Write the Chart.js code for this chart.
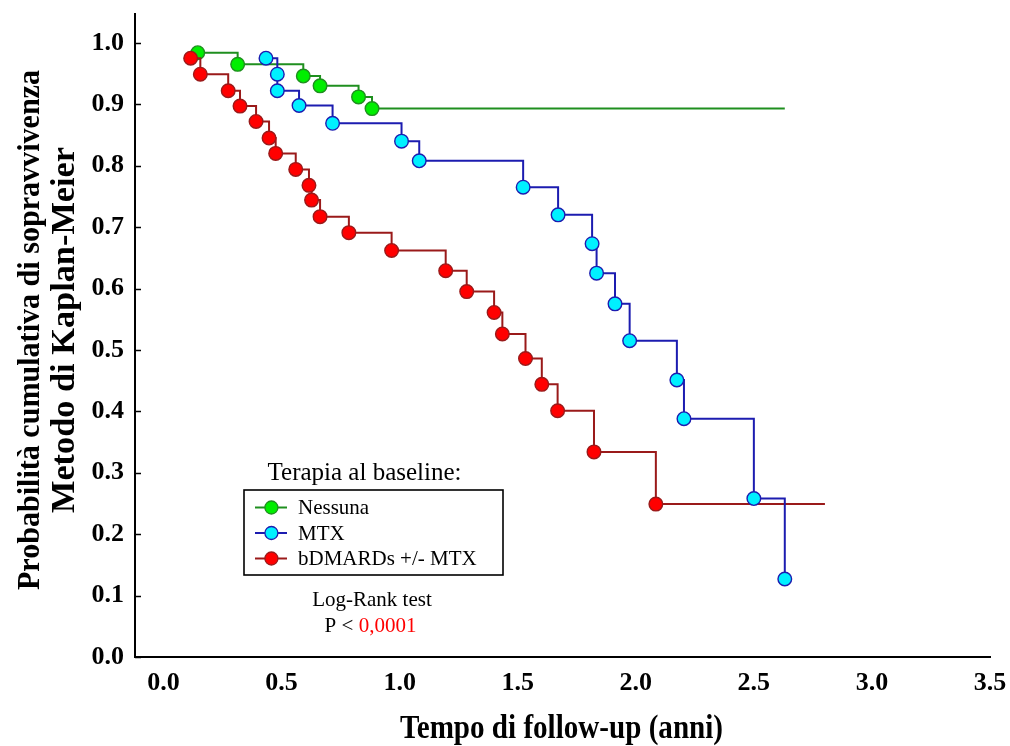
<!DOCTYPE html>
<html><head><meta charset="utf-8">
<script src="https://cdn.jsdelivr.net/npm/chart.js@4.4.1/dist/chart.umd.min.js"></script>
<style>html,body{margin:0;padding:0;background:#fff}#wrap{width:1010px;height:746px;position:relative}</style>
</head><body><div id="wrap"><canvas id="c" width="1010" height="746"></canvas></div>
<script>
// ---- data ----
const xTicks = [0, 0.5, 1.0, 1.5, 2.0, 2.5, 3.0, 3.5];
const yTicks = [0, 0.1, 0.2, 0.3, 0.4, 0.5, 0.6, 0.7, 0.8, 0.9, 1.0];
const seriesNames = ['Nessuna', 'MTX', 'bDMARDs +/- MTX'];
const legendTitle = 'Terapia al baseline:';
const xTitle = 'Tempo di follow-up (anni)';
const yTitle = ['Probabilità cumulativa di sopravvivenza', 'Metodo di Kaplan-Meier'];
const testLabel = 'Log-Rank test';
const pPrefix = 'P < ';
const pValue = '0,0001';

const nessunaT = [0.145, 0.314, 0.592, 0.663, 0.826, 0.883, 2.631];
const nessunaS = [0.984, 0.965, 0.946, 0.930, 0.912, 0.893, 0.893];
const nessunaCensoredEnd = true;

const mtxT = [0.434, 0.482, 0.482, 0.574, 0.716, 1.008, 1.083, 1.523, 1.671, 1.815, 1.834, 1.912, 1.974, 2.174, 2.204, 2.500, 2.631];
const mtxS = [0.975, 0.949, 0.922, 0.898, 0.869, 0.840, 0.808, 0.765, 0.720, 0.673, 0.625, 0.575, 0.515, 0.451, 0.388, 0.258, 0.127];
const mtxCensoredEnd = false;

const bdT = [0.115, 0.156, 0.274, 0.324, 0.392, 0.447, 0.475, 0.560, 0.616, 0.627, 0.663, 0.785, 0.966, 1.195, 1.284, 1.400, 1.435, 1.533, 1.602, 1.669, 1.823, 2.085, 2.801];
const bdS = [0.975, 0.949, 0.922, 0.897, 0.872, 0.845, 0.820, 0.794, 0.768, 0.744, 0.717, 0.691, 0.662, 0.629, 0.595, 0.561, 0.526, 0.486, 0.444, 0.401, 0.334, 0.249, 0.249];
const bdCensoredEnd = true;

// ---- styles ----
const SERIF = "'Liberation Serif', 'Times New Roman', serif";
const styles = [
  {line: '#1f8f1f', fill: '#00ee00'},
  {line: '#1c1cb0', fill: '#00f0ff'},
  {line: '#9a1a1a', fill: '#ff0000'}
];
const R = 6.8;

function pts(T, S) { return T.map((t, i) => ({x: t, y: S[i]})); }
function radii(T, censoredEnd) { return T.map((t, i) => (censoredEnd && i === T.length - 1) ? 0 : R); }

const seriesT = [nessunaT, mtxT, bdT];
const seriesS = [nessunaS, mtxS, bdS];
const seriesEnd = [nessunaCensoredEnd, mtxCensoredEnd, bdCensoredEnd];
const drawOrder = [3, 1, 2];

const datasets = seriesNames.map((name, k) => ({
  label: name,
  data: pts(seriesT[k], seriesS[k]),
  stepped: true,
  borderColor: styles[k].line,
  borderWidth: 2,
  backgroundColor: styles[k].fill,
  pointBackgroundColor: styles[k].fill,
  pointBorderColor: styles[k].line,
  pointBorderWidth: 1.4,
  pointRadius: radii(seriesT[k], seriesEnd[k]),
  pointHoverRadius: radii(seriesT[k], seriesEnd[k]),
  fill: false,
  order: drawOrder[k]
}));

function fitText(ctx, text, x, y, targetW, angle) {
  const w = ctx.measureText(text).width;
  ctx.save();
  ctx.translate(x, y);
  if (angle) ctx.rotate(angle);
  ctx.scale(targetW / w, 1);
  ctx.fillText(text, 0, 0);
  ctx.restore();
}

const decor = {
  id: 'decor',
  afterDraw(chart) {
    const ctx = chart.ctx;
    const ca = chart.chartArea;
    const ys = chart.scales.y;
    ctx.save();
    // inward y tick marks
    ctx.strokeStyle = '#000';
    ctx.lineWidth = 1.5;
    yTicks.forEach(v => {
      const py = Math.round(ys.getPixelForValue(v)) + 0.5;
      ctx.beginPath(); ctx.moveTo(ca.left, py); ctx.lineTo(ca.left + 6, py); ctx.stroke();
    });
    // axis titles
    ctx.fillStyle = '#000';
    ctx.textAlign = 'center';
    ctx.textBaseline = 'alphabetic';
    ctx.font = 'bold 33px ' + SERIF;
    fitText(ctx, xTitle, 561.5, 738, 323, 0);
    ctx.textBaseline = 'middle';
    ctx.font = 'bold 31px ' + SERIF;
    fitText(ctx, yTitle[0], 31, 330, 520, -Math.PI / 2);
    ctx.font = 'bold 34px ' + SERIF;
    fitText(ctx, yTitle[1], 65, 330, 366, -Math.PI / 2);

    // legend
    ctx.font = '25px ' + SERIF;
    ctx.textBaseline = 'alphabetic';
    ctx.textAlign = 'center';
    ctx.fillText(legendTitle, 364.5, 480);
    ctx.lineWidth = 1.6;
    ctx.strokeStyle = '#000';
    ctx.strokeRect(244, 490, 259, 85);
    const rowsY = [507.5, 533, 558.5];
    ctx.font = '21px ' + SERIF;
    ctx.textAlign = 'left';
    ctx.textBaseline = 'middle';
    seriesNames.forEach((name, k) => {
      const yy = rowsY[k];
      ctx.strokeStyle = styles[k].line;
      ctx.lineWidth = 2;
      ctx.beginPath(); ctx.moveTo(255, yy); ctx.lineTo(287, yy); ctx.stroke();
      ctx.beginPath(); ctx.arc(271.4, yy, 6.5, 0, Math.PI * 2);
      ctx.fillStyle = styles[k].fill; ctx.fill();
      ctx.lineWidth = 1.3; ctx.stroke();
      ctx.fillStyle = '#000';
      ctx.fillText(name, 298, yy + 1);
    });
    // log-rank annotation
    ctx.textBaseline = 'alphabetic';
    ctx.textAlign = 'center';
    ctx.fillText(testLabel, 372, 606);
    ctx.textAlign = 'left';
    const w1 = ctx.measureText(pPrefix).width;
    const w2 = ctx.measureText(pValue).width;
    const sx = 370.5 - (w1 + w2) / 2;
    ctx.fillStyle = '#000';
    ctx.fillText(pPrefix, sx, 631.5);
    ctx.fillStyle = '#ff0000';
    ctx.fillText(pValue, sx + w1, 631.5);
    ctx.restore();
  }
};

new Chart(document.getElementById('c'), {
  type: 'line',
  data: { datasets },
  options: {
    responsive: false,
    animation: false,
    events: [],
    layout: { padding: { top: 14, right: 20, left: 0, bottom: 0 } },
    plugins: { legend: { display: false }, tooltip: { enabled: false }, title: { display: false } },
    scales: {
      x: {
        type: 'linear',
        min: -0.1207,
        max: 3.5,
        afterBuildTicks: s => { s.ticks = xTicks.map(v => ({value: v})); },
        afterFit: s => { s.height = 89; s.paddingLeft = 0; s.paddingRight = 0; },
        grid: { display: false, drawTicks: false },
        border: { display: true, color: '#000', width: 2 },
        ticks: {
          padding: 11,
          color: '#000',
          font: { family: SERIF, size: 26, weight: 'bold' },
          callback: v => Number(v).toFixed(1),
          maxRotation: 0, autoSkip: false
        },
        title: { display: false }
      },
      y: {
        type: 'linear',
        min: 0,
        max: 1.047,
        afterBuildTicks: s => { s.ticks = yTicks.map(v => ({value: v})); },
        afterFit: s => { s.width = 135; s.paddingTop = 0; s.paddingBottom = 0; },
        grid: { display: false, drawTicks: false },
        border: { display: true, color: '#000', width: 2 },
        ticks: {
          padding: 11,
          color: '#000',
          font: { family: SERIF, size: 26, weight: 'bold' },
          callback: v => Number(v).toFixed(1),
          autoSkip: false
        },
        title: { display: false }
      }
    }
  },
  plugins: [decor]
});
</script>
</body></html>
